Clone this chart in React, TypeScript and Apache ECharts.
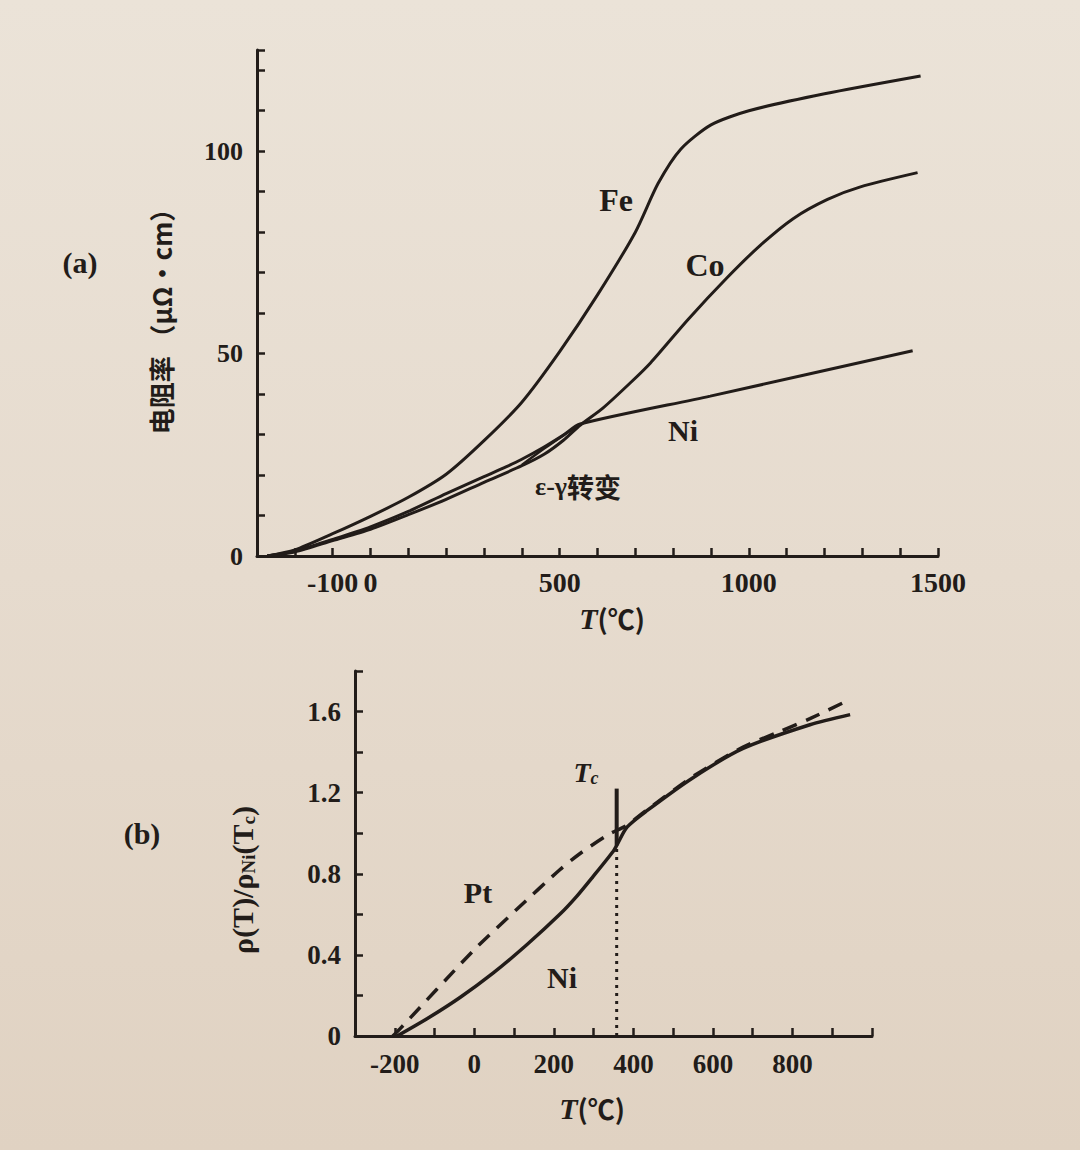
import React, { useEffect, useRef } from 'react';
import * as echarts from 'echarts';

// ---------- Panel (a): resistivity (μΩ·cm) vs T (°C) ----------
const feT = [-273, -200, -100, 0, 100, 200, 300, 400, 500, 600, 700, 760, 820, 900, 1000, 1200, 1454];
const feRho = [0, 1.5, 5.5, 9.8, 14.5, 20.2, 28.5, 38.0, 50.5, 64.5, 80.0, 92.0, 100.5, 106.5, 110.0, 114.2, 118.6];

const coT = [-273, -200, -100, 0, 100, 200, 300, 400, 460, 510, 554, 615, 687, 740, 840, 943, 1031, 1118, 1208, 1295, 1446];
const coRho = [0, 1.0, 3.8, 6.6, 10.2, 14.0, 18.2, 22.3, 25.2, 28.6, 32.3, 36.6, 42.8, 47.7, 58.5, 68.8, 76.8, 83.4, 88.1, 91.2, 94.7];

// upper branch of the Co ε-γ transformation loop
const coLoopT = [400, 460, 510, 554];
const coLoopRho = [22.5, 26.6, 29.8, 32.5];

const niT = [-273, -200, -100, 0, 100, 200, 300, 358, 400, 460, 510, 554, 898, 1433];
const niRho = [0, 1.2, 4.1, 7.2, 11.0, 15.4, 19.6, 22.0, 23.9, 27.0, 29.9, 32.6, 39.5, 50.7];

const aXLabels = [-100, 0, 500, 1000, 1500];
const aYLabels = [0, 50, 100];

// ---------- Panel (b): ρ(T)/ρNi(Tc) vs T (°C) ----------
const ptT = [-205, -187, -3, 107, 215, 266, 334, 384, 434, 550, 676, 760, 844, 945];
const ptRatio = [0, 0.035, 0.42, 0.625, 0.82, 0.9, 0.99, 1.04, 1.115, 1.28, 1.425, 1.495, 1.565, 1.66];

const niBT = [-194, -119, -36, 47, 132, 215, 258, 298, 349, 358, 384, 434, 550, 676, 844, 945];
const niBRatio = [0, 0.085, 0.19, 0.31, 0.45, 0.6, 0.69, 0.785, 0.91, 0.94, 1.03, 1.111, 1.274, 1.418, 1.535, 1.585];

const curieT = 358;
const curieDottedTop = 0.94;
const curieBarTop = 1.22;

const bXLabels = [-200, 0, 200, 400, 600, 800];
const bYLabels = [0, 0.4, 0.8, 1.2, 1.6];

const zip = (xs: number[], ys: number[]) => xs.map((x, i) => [x, ys[i]]);

const INK = '#221c19';
const SERIF = '"Liberation Serif", "DejaVu Serif", serif';
const CJK = '"Noto Sans CJK SC", sans-serif';

function axisCommon() {
  return {
    axisLine: { show: true, onZero: false, lineStyle: { color: INK, width: 3 } },
    axisTick: { show: true, inside: true, length: 8, lineStyle: { color: INK, width: 2.5 } },
    splitLine: { show: false },
  };
}

export default function App() {
  const ref = useRef<HTMLDivElement>(null);

  useEffect(() => {
    document.body.style.margin = '0';
    const chart = echarts.init(ref.current!, null, { renderer: 'svg' });

    const lineBase = {
      type: 'line',
      showSymbol: false,
      symbol: 'none',
      smooth: 0.25,
      silent: true,
      animation: false,
    };

    const option = {
      animation: false,
      backgroundColor: 'transparent',
      grid: [
        { left: 257, top: 50, width: 681, height: 506 },
        { left: 355, top: 671, width: 517, height: 365 },
      ],
      xAxis: [
        {
          gridIndex: 0,
          type: 'value',
          min: -300,
          max: 1500,
          interval: 100,
          ...axisCommon(),
          axisLabel: {
            color: INK,
            fontFamily: SERIF,
            fontWeight: 'bold',
            fontSize: 28,
            margin: 12,
            formatter: (v: number) => (aXLabels.includes(v) ? String(v) : ''),
          },
        },
        {
          gridIndex: 1,
          type: 'value',
          min: -300,
          max: 1000,
          interval: 100,
          ...axisCommon(),
          axisLabel: {
            color: INK,
            fontFamily: SERIF,
            fontWeight: 'bold',
            fontSize: 27,
            margin: 14,
            formatter: (v: number) => (bXLabels.includes(v) ? String(v) : ''),
          },
        },
      ],
      yAxis: [
        {
          gridIndex: 0,
          type: 'value',
          min: 0,
          max: 125,
          interval: 10,
          ...axisCommon(),
          axisLabel: {
            color: INK,
            fontFamily: SERIF,
            fontWeight: 'bold',
            fontSize: 26,
            margin: 14,
            formatter: (v: number) => (aYLabels.includes(v) ? String(v) : ''),
          },
        },
        {
          gridIndex: 1,
          type: 'value',
          min: 0,
          max: 1.8,
          interval: 0.2,
          ...axisCommon(),
          axisLabel: {
            color: INK,
            fontFamily: SERIF,
            fontWeight: 'bold',
            fontSize: 27,
            margin: 14,
            formatter: (v: number) => {
              const hit = bYLabels.find((l) => Math.abs(l - v) < 1e-6);
              if (hit === undefined) return '';
              return hit === 0 ? '0' : hit.toFixed(1);
            },
          },
        },
      ],
      series: [
        { ...lineBase, name: 'Fe', xAxisIndex: 0, yAxisIndex: 0, data: zip(feT, feRho), lineStyle: { color: INK, width: 3 } },
        { ...lineBase, name: 'Co', xAxisIndex: 0, yAxisIndex: 0, data: zip(coT, coRho), lineStyle: { color: INK, width: 3 } },
        { ...lineBase, name: 'Co loop', xAxisIndex: 0, yAxisIndex: 0, data: zip(coLoopT, coLoopRho), lineStyle: { color: INK, width: 2.5 } },
        { ...lineBase, name: 'Ni', xAxisIndex: 0, yAxisIndex: 0, data: zip(niT, niRho), lineStyle: { color: INK, width: 3 } },

        { ...lineBase, name: 'Pt', xAxisIndex: 1, yAxisIndex: 1, data: zip(ptT, ptRatio), lineStyle: { color: INK, width: 3.5, type: [15, 10] } },
        { ...lineBase, name: 'Ni (b)', xAxisIndex: 1, yAxisIndex: 1, data: zip(niBT, niBRatio), lineStyle: { color: INK, width: 3.5 } },
        {
          ...lineBase,
          smooth: false,
          name: 'Tc dotted',
          xAxisIndex: 1,
          yAxisIndex: 1,
          data: [[curieT, 0], [curieT, curieDottedTop]],
          lineStyle: { color: INK, width: 3, type: [3, 5] },
        },
        {
          ...lineBase,
          smooth: false,
          name: 'Tc bar',
          xAxisIndex: 1,
          yAxisIndex: 1,
          data: [[curieT, curieDottedTop], [curieT, curieBarTop]],
          lineStyle: { color: INK, width: 4 },
        },
      ],
      graphic: [
        // panel (a)
        { type: 'text', x: 80, y: 262, style: { text: '(a)', fontFamily: SERIF, fontWeight: 'bold', fontSize: 30, fill: INK, align: 'center', verticalAlign: 'middle' } },
        {
          type: 'text', x: 160, y: 315, rotation: Math.PI / 2,
          style: { text: '电阻率 （μΩ·cm）', fontFamily: CJK, fontWeight: 'bold', fontSize: 26, fill: INK, align: 'center', verticalAlign: 'middle' },
        },
        { type: 'text', x: 616, y: 200, style: { text: 'Fe', fontFamily: SERIF, fontWeight: 'bold', fontSize: 32, fill: INK, align: 'center', verticalAlign: 'middle' } },
        { type: 'text', x: 705, y: 265, style: { text: 'Co', fontFamily: SERIF, fontWeight: 'bold', fontSize: 32, fill: INK, align: 'center', verticalAlign: 'middle' } },
        { type: 'text', x: 683, y: 430, style: { text: 'Ni', fontFamily: SERIF, fontWeight: 'bold', fontSize: 30, fill: INK, align: 'center', verticalAlign: 'middle' } },
        {
          type: 'text', x: 578, y: 486,
          style: {
            text: '{e|ε-γ}{c|转变}', align: 'center', verticalAlign: 'middle', fill: INK,
            rich: {
              e: { fontFamily: SERIF, fontWeight: 'bold', fontSize: 26, fill: INK },
              c: { fontFamily: CJK, fontWeight: 'bold', fontSize: 27, fill: INK },
            },
          },
        },
        {
          type: 'text', x: 612, y: 618,
          style: {
            text: '{t|T}{p|(℃)}', align: 'center', verticalAlign: 'middle', fill: INK,
            rich: {
              t: { fontFamily: SERIF, fontStyle: 'italic', fontWeight: 'bold', fontSize: 30, fill: INK },
              p: { fontFamily: CJK, fontWeight: 'bold', fontSize: 27, fill: INK },
            },
          },
        },
        // panel (b)
        { type: 'text', x: 142, y: 833, style: { text: '(b)', fontFamily: SERIF, fontWeight: 'bold', fontSize: 30, fill: INK, align: 'center', verticalAlign: 'middle' } },
        {
          type: 'text', x: 242, y: 880, rotation: Math.PI / 2,
          style: {
            text: '{a|ρ(T)/ρ}{s|Ni}{a|(T}{s|c}{a|)}', align: 'center', verticalAlign: 'middle', fill: INK,
            rich: {
              a: { fontFamily: SERIF, fontWeight: 'bold', fontSize: 30, fill: INK },
              s: { fontFamily: SERIF, fontWeight: 'bold', fontSize: 19, fill: INK, padding: [12, 0, 0, 0] },
            },
          },
        },
        { type: 'text', x: 478, y: 892, style: { text: 'Pt', fontFamily: SERIF, fontWeight: 'bold', fontSize: 30, fill: INK, align: 'center', verticalAlign: 'middle' } },
        { type: 'text', x: 562, y: 977, style: { text: 'Ni', fontFamily: SERIF, fontWeight: 'bold', fontSize: 30, fill: INK, align: 'center', verticalAlign: 'middle' } },
        {
          type: 'text', x: 586, y: 772,
          style: {
            text: '{t|T}{c|c}', align: 'center', verticalAlign: 'middle', fill: INK,
            rich: {
              t: { fontFamily: SERIF, fontStyle: 'italic', fontWeight: 'bold', fontSize: 28, fill: INK },
              c: { fontFamily: SERIF, fontStyle: 'italic', fontWeight: 'bold', fontSize: 18, fill: INK, padding: [12, 0, 0, 0] },
            },
          },
        },
        {
          type: 'text', x: 592, y: 1108,
          style: {
            text: '{t|T}{p|(℃)}', align: 'center', verticalAlign: 'middle', fill: INK,
            rich: {
              t: { fontFamily: SERIF, fontStyle: 'italic', fontWeight: 'bold', fontSize: 30, fill: INK },
              p: { fontFamily: CJK, fontWeight: 'bold', fontSize: 27, fill: INK },
            },
          },
        },
      ],
    };

    chart.setOption(option as any);
    return () => chart.dispose();
  }, []);

  return (
    <div
      ref={ref}
      style={{
        position: 'fixed',
        left: 0,
        top: 0,
        width: 1080,
        height: 1150,
        background: 'linear-gradient(180deg, #ebe3d8 0%, #e6dbce 50%, #e0d2c2 100%)',
      }}
    />
  );
}
